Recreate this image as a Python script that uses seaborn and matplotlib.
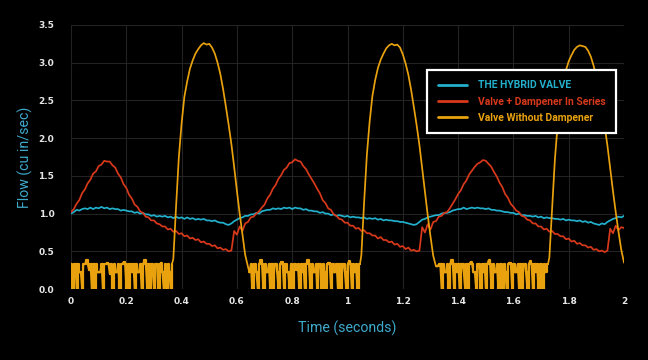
import numpy as np
import pandas as pd
import matplotlib
matplotlib.use("Agg")
import matplotlib.pyplot as plt
import seaborn as sns

# ---------------- data ----------------
series_names = ["THE HYBRID VALVE", "Valve + Dampener In Series", "Valve Without Dampener"]
series_colors = ["#22b0cc", "#d8391b", "#e9a20e"]

# red & blue sampled every 0.01 s from 0 to 2
t_fine = np.round(np.arange(0, 201) * 0.01, 3)

red_values = [
    1.02, 1.06, 1.13, 1.18, 1.27, 1.32, 1.40, 1.45, 1.53, 1.56,
    1.63, 1.65, 1.70, 1.69, 1.69, 1.64, 1.61, 1.53, 1.48, 1.39,
    1.34, 1.25, 1.20, 1.12, 1.09, 1.03, 1.01, 0.96, 0.95, 0.91,
    0.91, 0.87, 0.86, 0.83, 0.83, 0.79, 0.80, 0.76, 0.77, 0.73,
    0.74, 0.70, 0.71, 0.67, 0.68, 0.65, 0.66, 0.62, 0.63, 0.60,
    0.60, 0.57, 0.58, 0.54, 0.55, 0.52, 0.53, 0.50, 0.51, 0.77,
    0.72, 0.83, 0.77, 0.87, 0.89, 0.95, 0.96, 1.00,
    1.03, 1.08, 1.12, 1.20, 1.25, 1.33, 1.38, 1.46, 1.51, 1.58,
    1.61, 1.67, 1.68, 1.72, 1.70, 1.69, 1.63, 1.59, 1.52, 1.46,
    1.40, 1.33, 1.27, 1.18, 1.14, 1.07, 1.05, 0.99, 0.97, 0.93,
    0.92, 0.88, 0.88, 0.84, 0.84, 0.80, 0.81, 0.77, 0.78, 0.74,
    0.74, 0.71, 0.71, 0.67, 0.69, 0.65, 0.65, 0.62, 0.63, 0.59,
    0.60, 0.56, 0.57, 0.53, 0.55, 0.51, 0.52, 0.50, 0.51, 0.82,
    0.75, 0.86, 0.79, 0.89, 0.90, 0.96, 0.97, 1.01,
    1.02, 1.07, 1.13, 1.19, 1.26, 1.31, 1.39, 1.44, 1.52, 1.57,
    1.62, 1.66, 1.68, 1.71, 1.70, 1.66, 1.62, 1.55, 1.49, 1.41,
    1.35, 1.26, 1.21, 1.13, 1.09, 1.04, 1.02, 0.97, 0.96, 0.92,
    0.91, 0.87, 0.87, 0.83, 0.83, 0.79, 0.80, 0.76, 0.77, 0.73,
    0.73, 0.70, 0.70, 0.66, 0.67, 0.63, 0.64, 0.60, 0.61, 0.58,
    0.58, 0.55, 0.56, 0.52, 0.53, 0.50, 0.51, 0.49, 0.51, 0.80,
    0.74, 0.84, 0.78, 0.82, 0.81,
]

blue_values = [
    1.00, 1.02, 1.05, 1.04, 1.06, 1.07, 1.06, 1.08, 1.06, 1.08,
    1.07, 1.09, 1.07, 1.08, 1.06, 1.07, 1.06, 1.06, 1.04, 1.05,
    1.04, 1.03, 1.03, 1.01, 1.02, 1.00, 1.01, 0.99, 0.99, 0.97,
    0.98, 0.96, 0.97, 0.96, 0.97, 0.95, 0.96, 0.94, 0.96, 0.94,
    0.95, 0.93, 0.95, 0.93, 0.94, 0.92, 0.93, 0.92, 0.93, 0.91,
    0.91, 0.90, 0.91, 0.89, 0.88, 0.88, 0.86, 0.85, 0.87, 0.90,
    0.92, 0.94, 0.95, 0.97, 0.97, 0.99, 0.99, 1.01,
    1.00, 1.03, 1.04, 1.05, 1.05, 1.07, 1.06, 1.07, 1.06, 1.08,
    1.07, 1.08, 1.06, 1.08, 1.07, 1.07, 1.05, 1.06, 1.04, 1.04,
    1.03, 1.03, 1.01, 1.02, 1.00, 1.00, 0.98, 0.99, 0.97, 0.98,
    0.97, 0.96, 0.97, 0.95, 0.96, 0.95, 0.95, 0.94, 0.95, 0.93,
    0.94, 0.93, 0.94, 0.92, 0.93, 0.91, 0.92, 0.91, 0.91, 0.90,
    0.90, 0.89, 0.89, 0.88, 0.87, 0.86, 0.85, 0.86, 0.89, 0.92,
    0.93, 0.95, 0.96, 0.97, 0.98, 0.98, 1.00, 1.01,
    1.01, 1.02, 1.04, 1.05, 1.06, 1.06, 1.08, 1.06, 1.07, 1.08,
    1.07, 1.08, 1.07, 1.07, 1.06, 1.07, 1.05, 1.05, 1.04, 1.04,
    1.03, 1.02, 1.02, 1.01, 1.01, 0.99, 1.00, 0.98, 0.98, 0.97,
    0.97, 0.96, 0.97, 0.95, 0.96, 0.94, 0.95, 0.94, 0.94, 0.93,
    0.93, 0.92, 0.93, 0.91, 0.92, 0.91, 0.91, 0.90, 0.91, 0.89,
    0.90, 0.88, 0.89, 0.87, 0.86, 0.85, 0.87, 0.86, 0.89, 0.91,
    0.93, 0.94, 0.96, 0.95, 0.97,
]

# yellow: noisy closed-valve segments (0.005 s) and open pulses (0.01 s)
yellow_noise_1 = [  # t 0.000 .. 0.365
    .33, 0, .33, .33, 0, .33, .22, .22, 0, .33,
    .33, .38, .33, .25, .33, 0, .33, 0, .33, .22,
    .22, .22, .33, 0, .33, .33, .35, .33, .2, .33,
    0, .33, .22, .22, .33, 0, .33, .33, .36, .33,
    0, .33, 0, .33, .22, .33, 0, .33, .22, .22,
    .33, 0, .33, .38, .33, 0, .33, 0, .33, .22,
    0, .33, .33, 0, .33, .35, .22, 0, .33, 0,
    .33, .22, 0, .33,
]
yellow_pulse_1 = [  # t 0.37 .. 0.64
    .40, 1.10, 1.75, 2.20, 2.55, 2.75, 2.92, 3.03, 3.12, 3.18,
    3.23, 3.26, 3.24, 3.25, 3.20, 3.12, 3.00, 2.85, 2.65, 2.42,
    2.18, 1.92, 1.62, 1.30, 1.00, 0.72, 0.45, 0.30,
]
yellow_noise_2 = [  # t 0.645 .. 1.045
    .22, .33, 0, .33, .33, .22, 0, .33, .38, .33,
    0, .33, .22, .22, .33, 0, .33, 0, .33, .33,
    .22, 0, .33, .36, .33, 0, .33, .22, .22, 0,
    .33, 0, .33, .33, .25, .33, 0, .33, .22, .33,
    0, .33, .38, .33, 0, .33, .22, .22, .33, 0,
    .33, .33, 0, .33, .22, 0, .33, .35, .33, 0,
    .33, .22, .22, .33, 0, .33, 0, .33, .33, .22,
    0, .33, .37, .33, 0, .33, .22, .33, 0, .33,
    .33,
]
yellow_pulse_2 = [  # t 1.05 .. 1.32
    .45, 1.15, 1.78, 2.22, 2.56, 2.77, 2.93, 3.04, 3.12, 3.19,
    3.23, 3.25, 3.23, 3.24, 3.20, 3.11, 2.99, 2.84, 2.64, 2.41,
    2.17, 1.91, 1.60, 1.28, 0.98, 0.70, 0.44, 0.30,
]
yellow_noise_3 = [  # t 1.325 .. 1.725
    .30, .33, .33, 0, .33, .22, .22, .33, 0, .33,
    .38, .33, 0, .33, .22, .33, 0, .33, .33, .22,
    0, .33, 0, .33, .36, .33, .22, .22, 0, .33,
    .33, 0, .33, .22, .33, 0, .33, .38, .33, 0,
    .33, .22, .22, .33, 0, .33, .33, 0, .33, .22,
    0, .33, .35, .33, 0, .33, .22, .22, .33, 0,
    .33, 0, .33, .33, .22, 0, .33, .37, .33, 0,
    .33, .22, .33, 0, .33, .33, 0, .33, .22, .33,
    .33,
]
yellow_pulse_3 = [  # t 1.73 .. 2.00
    .42, 1.08, 1.72, 2.18, 2.52, 2.74, 2.90, 3.02, 3.10, 3.17,
    3.21, 3.23, 3.22, 3.21, 3.16, 3.08, 2.96, 2.81, 2.62, 2.40,
    2.16, 1.90, 1.60, 1.30, 1.02, 0.76, 0.52, 0.35,
]

y_ticks = [0.0, 0.5, 1.0, 1.5, 2.0, 2.5, 3.0, 3.5]
y_tick_labels = ["0.0", "0.5", "1.0", "1.5", "2.0", "2.5", "3.0", "3.5"]
x_ticks = [0, 0.2, 0.4, 0.6, 0.8, 1.0, 1.2, 1.4, 1.6, 1.8, 2.0]
x_tick_labels = ["0", "0.2", "0.4", "0.6", "0.8", "1", "1.2", "1.4", "1.6", "1.8", "2"]

# ---------------- build time axes for yellow ----------------
def grid(start, n, step):
    return list(np.round(start + np.arange(n) * step, 4))

noise_segments = [
    (grid(0.0, len(yellow_noise_1), 0.005), yellow_noise_1),
    (grid(0.645, len(yellow_noise_2), 0.005), yellow_noise_2),
    (grid(1.325, len(yellow_noise_3), 0.005), yellow_noise_3),
]
pulse_segments = [
    (grid(0.37, len(yellow_pulse_1), 0.01), yellow_pulse_1),
    (grid(1.05, len(yellow_pulse_2), 0.01), yellow_pulse_2),
    (grid(1.73, len(yellow_pulse_3), 0.01), yellow_pulse_3),
]
t_yellow, v_yellow = [], []
for (tn, vn), (tp, vp) in zip(noise_segments, pulse_segments):
    t_yellow += tn + tp
    v_yellow += vn + vp

df_blue = pd.DataFrame({"t": t_fine, "flow": blue_values})
df_red = pd.DataFrame({"t": t_fine, "flow": red_values})
df_yel = pd.DataFrame({"t": t_yellow, "flow": v_yellow})

# ---------------- plot ----------------
sns.set_theme(style="dark")
plt.rcParams["font.family"] = ["Roboto", "DejaVu Sans"]

fig = plt.figure(figsize=(6.48, 3.6), dpi=100, facecolor="black")
ax = fig.add_axes([0.1096, 0.197, 0.8534, 0.7336])
ax.set_facecolor("black")

for df, name, col in zip([df_blue, df_red, df_yel], series_names, series_colors):
    sns.lineplot(data=df, x="t", y="flow", ax=ax, color=col, linewidth=1.25,
                 label=name, estimator=None, sort=False)

# dense switching noise of the closed valve: draw as steps so it fills like the scope trace
for tn, vn in noise_segments:
    sns.lineplot(x=tn, y=vn, ax=ax, color=series_colors[2], linewidth=1.6,
                 estimator=None, sort=False, drawstyle="steps-post")

ax.set_xlim(0, 2)
ax.set_ylim(0, 3.5)
ax.set_xticks(x_ticks)
ax.set_xticklabels(x_tick_labels)
ax.set_yticks(y_ticks)
ax.set_yticklabels(y_tick_labels)
ax.tick_params(axis="x", length=0, pad=6, labelcolor="#e6e6e6")
ax.tick_params(axis="y", length=0, pad=12, labelcolor="#e6e6e6")
for lab in ax.get_xticklabels() + ax.get_yticklabels():
    lab.set_fontfamily("DejaVu Sans")
    lab.set_fontsize(6.5)
    lab.set_fontweight("bold")

ax.grid(True, color="#232323", linewidth=0.8)
ax.set_axisbelow(True)
for s in ax.spines.values():
    s.set_visible(False)

label_color = "#3eaacb"
ax.set_xlabel("Time (seconds)", color=label_color, fontsize=10.2, labelpad=10)
ax.set_ylabel("Flow (cu in/sec)", color=label_color, fontsize=10.2, labelpad=4)

handles, labels = ax.get_legend_handles_labels()
handles, labels = handles[:3], labels[:3]
leg = ax.legend(handles, labels, loc="upper left", bbox_to_anchor=(0.644, 0.8295),
                borderaxespad=0, frameon=True,
                facecolor="black", edgecolor="white", fancybox=False,
                handlelength=2.8, handletextpad=1.1, borderpad=1.0,
                labelspacing=0.6, prop={"family": "Roboto", "weight": "bold", "size": 7.5})
leg.get_frame().set_linewidth(1.6)
leg.get_frame().set_alpha(1)
for txt, col in zip(leg.get_texts(), series_colors):
    txt.set_color(col)
for line in leg.get_lines():
    line.set_linewidth(2.0)

fig.savefig("out.png", dpi=100, facecolor="black")
